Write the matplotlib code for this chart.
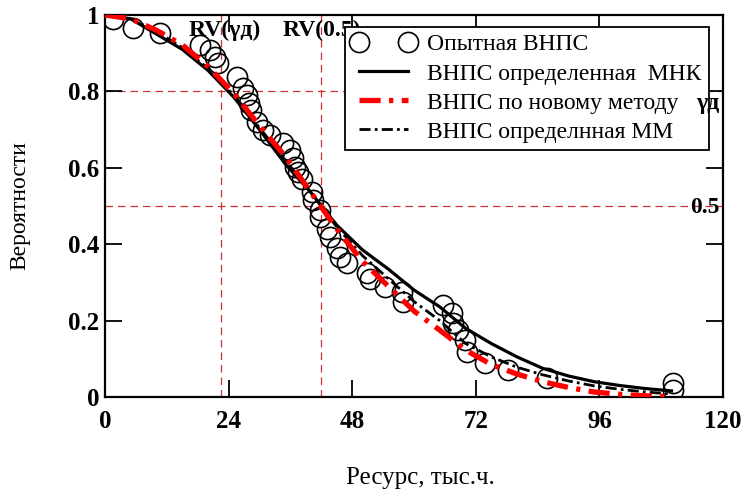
import numpy as np
import matplotlib
matplotlib.use("Agg")
import matplotlib.pyplot as plt

plt.rcParams['font.family'] = ['Liberation Serif', 'DejaVu Serif']

# experimental points (resource, probability)
exp_x = [1.6, 5.4, 10.7, 18.4, 20.4, 21.4, 21.9, 25.6, 26.8, 27.6, 28.0, 28.4, 29.6, 30.6,
         32.0, 34.6, 35.9, 36.5, 36.9, 37.5, 38.2, 40.2, 40.4, 41.7, 41.7, 43.1, 43.7, 45.0,
         45.6, 47.0, 50.9, 51.5, 54.4, 57.7, 57.9, 65.6, 67.4, 67.6, 68.5, 69.9, 70.3, 73.8,
         78.3, 85.8, 110.3, 110.3]
exp_y = [0.99, 0.966, 0.953, 0.921, 0.908, 0.89, 0.874, 0.838, 0.81, 0.79, 0.77, 0.75, 0.72, 0.70,
         0.685, 0.665, 0.647, 0.626, 0.602, 0.589, 0.57, 0.537, 0.516, 0.49, 0.47, 0.44, 0.42, 0.39,
         0.367, 0.35, 0.325, 0.31, 0.288, 0.275, 0.249, 0.241, 0.22, 0.194, 0.175, 0.149, 0.118, 0.089,
         0.071, 0.05, 0.037, 0.018]

# fitted curves
curve_x = [0, 5, 10, 15, 20, 25, 30, 35, 40, 45, 50, 55, 60, 65, 70, 75, 80, 85, 90, 95, 100, 105, 110]
mnk_y = [1.0, 0.99, 0.95, 0.91, 0.855, 0.785, 0.70, 0.61, 0.535, 0.45, 0.385, 0.335, 0.28, 0.236,
         0.18, 0.14, 0.105, 0.075, 0.055, 0.04, 0.03, 0.022, 0.016]
new_y = [1.0, 0.99, 0.96, 0.922, 0.865, 0.795, 0.71, 0.63, 0.535, 0.44, 0.355, 0.29, 0.225, 0.175,
         0.123, 0.085, 0.06, 0.04, 0.025, 0.013, 0.007, 0.003, 0.001]
mm_y = [1.0, 0.99, 0.957, 0.915, 0.86, 0.79, 0.705, 0.62, 0.535, 0.445, 0.37, 0.31, 0.25, 0.2,
        0.14, 0.105, 0.078, 0.058, 0.042, 0.029, 0.02, 0.013, 0.008]

gamma_d = 0.8
rv_gamma = 22.5
rv_half = 42.0

x_ticks = [0, 24, 48, 72, 96, 120]
y_ticks = [0, 0.2, 0.4, 0.6, 0.8, 1]
y_tick_labels = ['0', '0.2', '0.4', '0.6', '0.8', '1']

fig = plt.figure(figsize=(7.45, 4.91), dpi=100)
ax = fig.add_axes([105/745, 1 - 397/491, 618/745, 382/491])

# reference dashed lines
for yv in (gamma_d, 0.5):
    ax.axhline(yv, color='#cc3333', lw=0.9, dashes=(6, 4), zorder=1)
for xv in (rv_gamma, rv_half):
    ax.axvline(xv, color='#cc3333', lw=0.9, dashes=(6, 4), zorder=1)

ax.plot(exp_x, exp_y, 'o', ms=14.5, mfc='none', mec='black', mew=1.2,
        label='Опытная ВНПС', zorder=3)
ax.plot(curve_x, mnk_y, color='black', lw=2.3, label='ВНПС определенная  МНК', zorder=4)
ax.plot(curve_x, new_y, color='red', lw=3.8, dashes=(4, 1.6, 0.8, 1.6),
        label='ВНПС по новому методу', zorder=5)
ax.plot(curve_x, mm_y, color='black', lw=2.0, dashes=(4, 1.5, 1, 1.5),
        label='ВНПС определнная ММ', zorder=4)

ax.set_xlim(0, 120)
ax.set_ylim(0, 1)
ax.set_xticks(x_ticks)
ax.set_yticks(y_ticks)
ax.set_yticklabels(y_tick_labels)
ax.tick_params(direction='in', length=12, width=1.3, top=True, right=True, labelsize=18)
ax.tick_params(axis='x', pad=9)
ax.tick_params(axis='y', pad=4)
for lab in ax.get_xticklabels() + ax.get_yticklabels():
    lab.set_fontweight('bold')
for sp in ax.spines.values():
    sp.set_linewidth(1.6)

ax.set_xlabel('Ресурс, тыс.ч.', fontsize=18)
ax.set_ylabel('Вероятности', fontsize=17)
ax.xaxis.set_label_coords((420 - 105) / 618, (397 - 478) / 382)
ax.yaxis.set_label_coords((20 - 105) / 618, 0.5)
ax.xaxis.label.set_va('center')
ax.yaxis.label.set_va('center')

ax.text(rv_gamma + 0.8, 0.96, 'RV(γд)', fontsize=17, fontweight='bold',
        ha='center', va='center')
ax.text(rv_half + 0.2, 0.96, 'RV(0.5)', fontsize=17, fontweight='bold',
        ha='center', va='center')

leg = ax.legend(loc='upper right', bbox_to_anchor=(0.977, 0.969), fontsize=17,
                frameon=True, fancybox=False, edgecolor='black', framealpha=1,
                borderpad=0.3, labelspacing=0.32, handlelength=2.7, handletextpad=0.5,
                numpoints=2, borderaxespad=0)
leg.get_frame().set_linewidth(1.3)

# right-side labels drawn above the legend box
ax.text(119.3, gamma_d - 0.005, 'γд', fontsize=17, fontweight='bold', ha='right', va='top',
        zorder=10)
ax.text(119.3, 0.5 - 0.005, '0.5', fontsize=17, fontweight='bold', ha='right', va='center',
        zorder=10)

fig.savefig('out.png', dpi=100)
